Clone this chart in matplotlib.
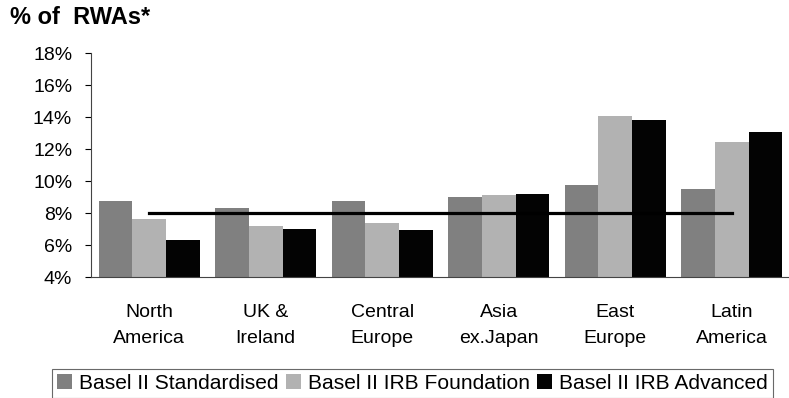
import matplotlib.pyplot as plt
import numpy as np

plt.rcParams['font.family'] = ['Liberation Sans', 'DejaVu Sans']

# Capital requirement by region, % of risk-weighted assets
regions = ['North\nAmerica', 'UK &\nIreland', 'Central\nEurope', 'Asia\nex.Japan',
           'East\nEurope', 'Latin\nAmerica']
standardised = [8.77, 8.31, 8.77, 9.02, 9.77, 9.52]
irb_foundation = [7.64, 7.20, 7.40, 9.14, 14.08, 12.45]
irb_advanced = [6.33, 7.02, 6.96, 9.20, 13.83, 13.08]
minimum = [8, 8, 8, 8, 8, 8]

series = [
    ('Basel II Standardised', standardised, '#808080'),
    ('Basel II IRB Foundation', irb_foundation, '#b2b2b2'),
    ('Basel II IRB Advanced', irb_advanced, '#030303'),
]

fig = plt.figure(figsize=(7.89, 3.98), dpi=100)
ax = fig.add_axes([0.1153, 0.3033, 0.886, 0.563])

x = np.arange(len(regions))
width = 0.288
for i, (name, vals, color) in enumerate(series):
    ax.bar(x + (i - 1) * width, np.array(vals) - 4, width, bottom=4,
           color=color, label=name, zorder=2)

ax.plot(x, minimum, color='black', linewidth=2.3, zorder=3,
        solid_capstyle='projecting')

ax.set_xlim(-0.5, len(regions) - 0.5)
ax.set_ylim(4, 18)
ax.set_yticks(np.arange(4, 19, 2))
ax.set_yticklabels([f'{v}%' for v in range(4, 19, 2)], fontsize=14)
ax.set_xticks(x)
ax.set_xticklabels(regions, fontsize=14, linespacing=1.75)
ax.tick_params(axis='x', length=0, pad=19)
ax.tick_params(axis='y', length=4.5, width=0.8, pad=9)

for side in ['top', 'right']:
    ax.spines[side].set_visible(False)
ax.spines['left'].set_color('#444444')
ax.spines['bottom'].set_color('#444444')

fig.text(0.013, 0.955, '% of  RWAs*', fontsize=17, fontweight='bold', va='center')

leg = fig.legend(loc='lower left', bbox_to_anchor=(0.066, 0.0),
                 ncol=3, fontsize=15.1, frameon=True, fancybox=False,
                 handlelength=0.72, handleheight=0.72, handletextpad=0.32,
                 columnspacing=0.35, borderpad=0.25, borderaxespad=0)
leg.get_frame().set_edgecolor('#444444')
leg.get_frame().set_linewidth(0.8)

fig.savefig('out.png', dpi=100)
